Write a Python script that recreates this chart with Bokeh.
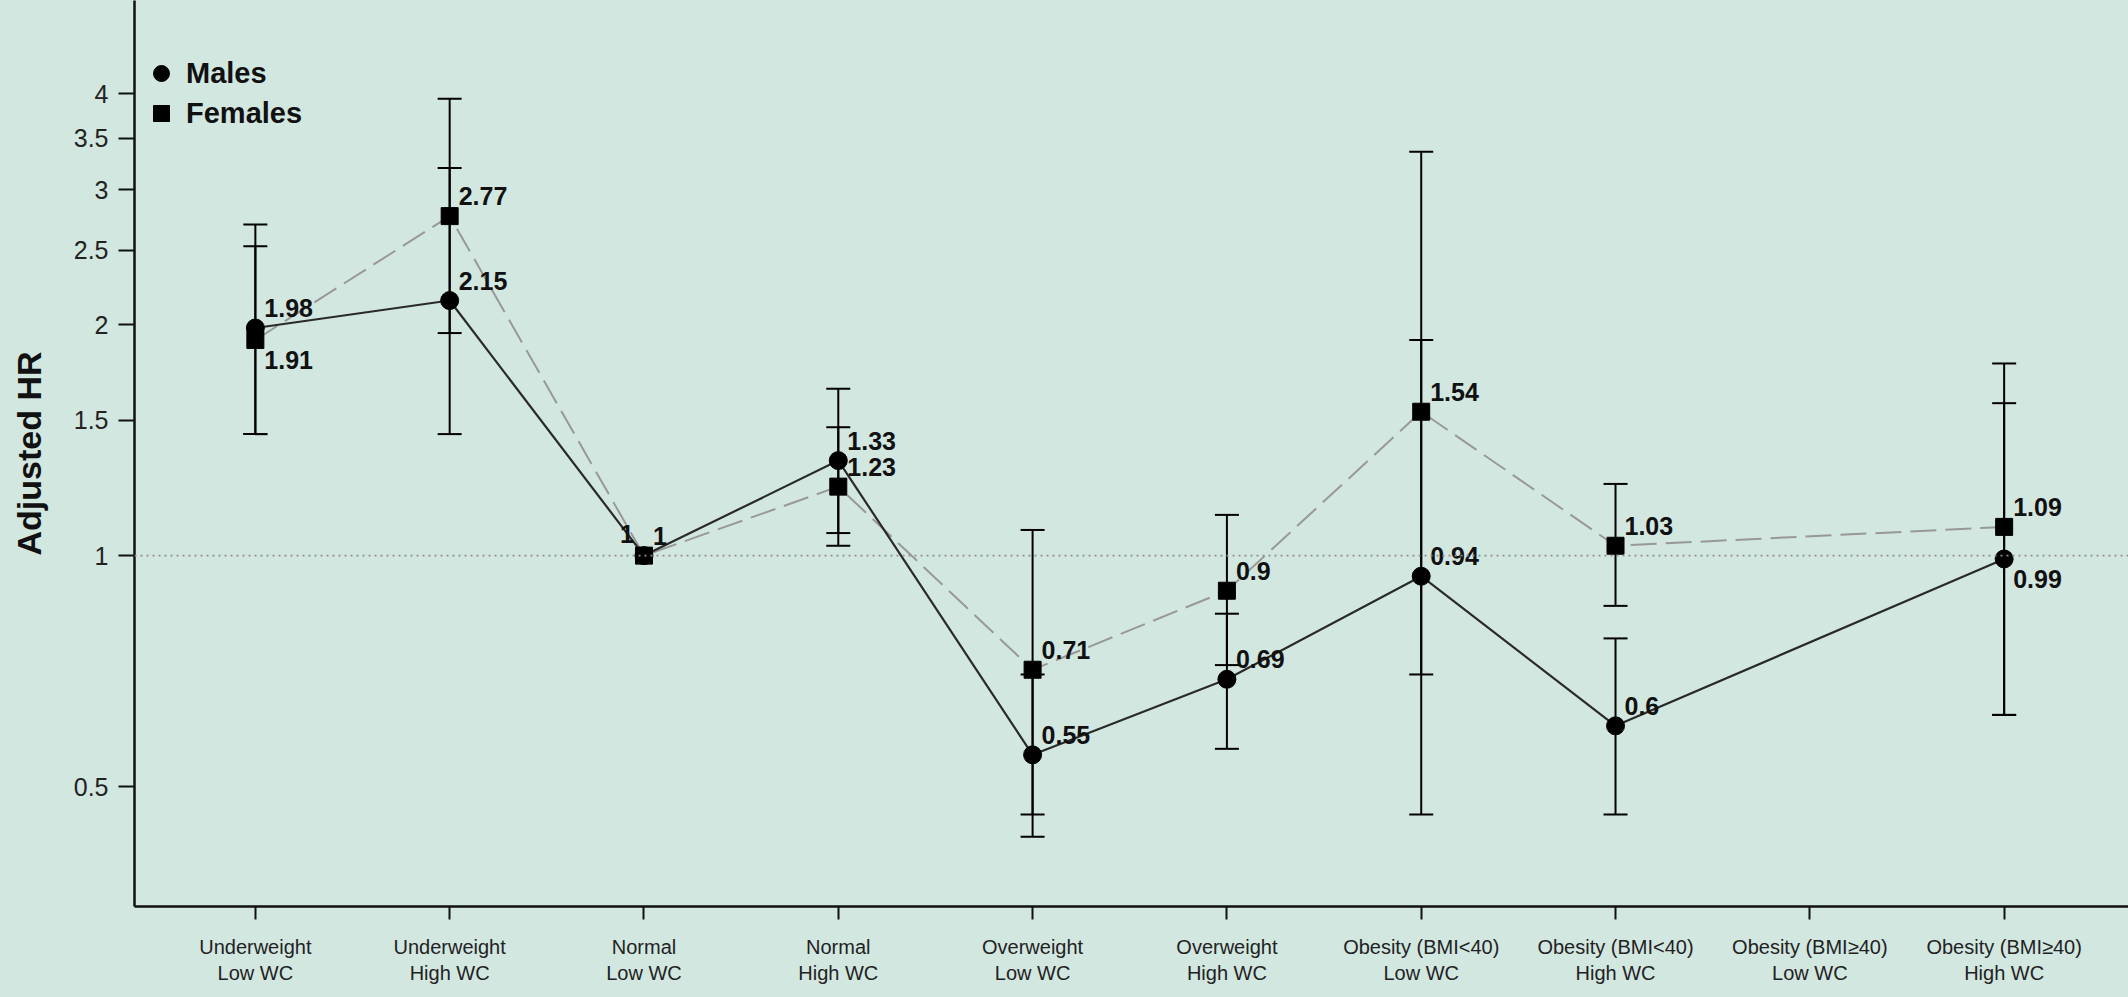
from bokeh.plotting import figure
from bokeh.models import (ColumnDataSource, Whisker, TeeHead, Span, FixedTicker, Range1d,
                          Legend, LegendItem, NumeralTickFormatter)
from bokeh.embed import file_html
from bokeh.resources import INLINE
from bokeh.core.properties import value

# ---------------- data ----------------
categories = ["Underweight\nLow WC", "Underweight\nHigh WC", "Normal\nLow WC", "Normal\nHigh WC",
              "Overweight\nLow WC", "Overweight\nHigh WC", "Obesity (BMI<40)\nLow WC",
              "Obesity (BMI<40)\nHigh WC", "Obesity (BMI\u226540)\nLow WC", "Obesity (BMI\u226540)\nHigh WC"]
male_hr = [1.98, 2.15, 1.0, 1.33, 0.55, 0.69, 0.94, 0.60, None, 0.99]
male_lo = [1.44, 1.44, None, 1.07, 0.43, 0.56, 0.46, 0.46, None, 0.62]
male_hi = [2.70, 3.20, None, 1.65, 0.70, 0.84, 1.91, 0.78, None, 1.58]
female_hr = [1.91, 2.77, 1.0, 1.23, 0.71, 0.90, 1.54, 1.03, None, 1.09]
female_lo = [1.44, 1.95, None, 1.03, 0.46, 0.72, 0.70, 0.86, None, 0.62]
female_hi = [2.53, 3.94, None, 1.47, 1.08, 1.13, 3.36, 1.24, None, 1.78]
y_ticks = [0.5, 1, 1.5, 2, 2.5, 3, 3.5, 4]

# label placement (style)
male_place = ["above", "above", "left", "above", "above", "above", "above", "above", None, "below"]
female_place = ["below", "above", "above", "above", "above", "above", "above", "above", None, "above"]

BG = "#D3E7E1"
FONT = "Liberation Sans"

p = figure(width=2128, height=997, y_axis_type="log",
           x_range=Range1d(-0.622, 9.64), y_range=Range1d(0.3489, 5.29),
           output_backend="svg", toolbar_location=None,
           min_border_left=134, min_border_right=0, min_border_top=0, min_border_bottom=91)
p.background_fill_color = BG
p.border_fill_color = BG
p.outline_line_color = None
p.xgrid.visible = False
p.ygrid.visible = False

# reference line
p.add_layout(Span(location=1, dimension="width", line_color="#8f8f8f",
                  line_width=1.8, line_dash="2 4"))

def series(hr, lo, hi):
    idx = [i for i, v in enumerate(hr) if v is not None]
    line_src = ColumnDataSource(dict(x=idx, y=[hr[i] for i in idx]))
    eidx = [i for i in idx if lo[i] is not None]
    err_src = ColumnDataSource(dict(x=eidx, lower=[lo[i] for i in eidx], upper=[hi[i] for i in eidx]))
    return idx, line_src, err_src

m_idx, m_src, m_err = series(male_hr, male_lo, male_hi)
f_idx, f_src, f_err = series(female_hr, female_lo, female_hi)

p.line("x", "y", source=f_src, line_color="#989898", line_width=2, line_dash="26 9")
p.line("x", "y", source=m_src, line_color="#2a2a2a", line_width=2.2)

for src in (m_err, f_err):
    p.add_layout(Whisker(base="x", lower="lower", upper="upper", source=src,
                         dimension="height", line_color="black", line_width=2,
                         upper_head=TeeHead(size=24, line_color="black", line_width=2),
                         lower_head=TeeHead(size=24, line_color="black", line_width=2)))

m_sc = p.scatter("x", "y", source=m_src, marker="circle", size=18, color="black")
f_sc = p.scatter("x", "y", source=f_src, marker="square", size=17, color="black")

# data labels
def label_sources(hr, place):
    left = dict(x=[], y=[], t=[], dy=[])
    right = dict(x=[], y=[], t=[], dy=[])
    for i, v in enumerate(hr):
        if v is None:
            continue
        txt = "{:g}".format(v)
        if place[i] == "left":
            right["x"].append(i); right["y"].append(v); right["t"].append(txt); right["dy"].append(-22)
        else:
            left["x"].append(i); left["y"].append(v); left["t"].append(txt)
            left["dy"].append(-20 if place[i] == "above" else 20)
    return ColumnDataSource(left), ColumnDataSource(right)

for hr, place in ((male_hr, male_place), (female_hr, female_place)):
    ls, rs = label_sources(hr, place)
    p.text("x", "y", text="t", source=ls, x_offset=9, y_offset="dy",
           text_font=value(FONT), text_font_style="bold", text_font_size="25px",
           text_align="left", text_baseline="middle", text_color="#111111")
    p.text("x", "y", text="t", source=rs, x_offset=-10, y_offset="dy",
           text_font=value(FONT), text_font_style="bold", text_font_size="25px",
           text_align="right", text_baseline="middle", text_color="#111111")

# axes
xa = p.xaxis[0]
xa.ticker = FixedTicker(ticks=list(range(len(categories))))
xa.major_label_overrides = {i: c for i, c in enumerate(categories)}
xa.minor_tick_line_color = None
xa.major_tick_in = 0
xa.major_tick_out = 13
xa.major_tick_line_width = 2
xa.axis_line_width = 2.5
xa.axis_line_color = "#111111"
xa.major_tick_line_color = "#111111"
xa.major_label_text_font = FONT
xa.major_label_text_font_size = "20px"
xa.major_label_text_color = "#222222"
xa.major_label_standoff = 16

ya = p.yaxis[0]
ya.ticker = FixedTicker(ticks=y_ticks)
ya.formatter = NumeralTickFormatter(format="0.[0]")
ya.minor_tick_line_color = None
ya.major_tick_in = 0
ya.major_tick_out = 16
ya.major_tick_line_width = 2
ya.axis_line_width = 2.5
ya.axis_line_color = "#111111"
ya.major_tick_line_color = "#111111"
ya.major_label_text_font = FONT
ya.major_label_text_font_size = "25px"
ya.major_label_text_color = "#222222"
ya.major_label_standoff = 10
ya.axis_label = "Adjusted HR"
ya.axis_label_text_font = FONT
ya.axis_label_text_font_style = "bold"
ya.axis_label_text_font_size = "34px"
ya.axis_label_text_color = "#111111"
ya.axis_label_standoff = 23

legend = Legend(items=[LegendItem(label="Males", renderers=[m_sc]),
                       LegendItem(label="Females", renderers=[f_sc])],
                location=(0, 769), margin=0, padding=4, spacing=0,
                glyph_width=46, glyph_height=40, label_height=40, label_standoff=2,
                label_text_font=FONT, label_text_font_style="bold", label_text_font_size="29px",
                label_text_color="#111111",
                background_fill_alpha=0, border_line_alpha=0)
p.add_layout(legend)

html = file_html(p, INLINE)
html = html.replace("<head>", "<head><style>body{background:%s;}</style>" % BG, 1)
open("out.html", "w").write(html)
